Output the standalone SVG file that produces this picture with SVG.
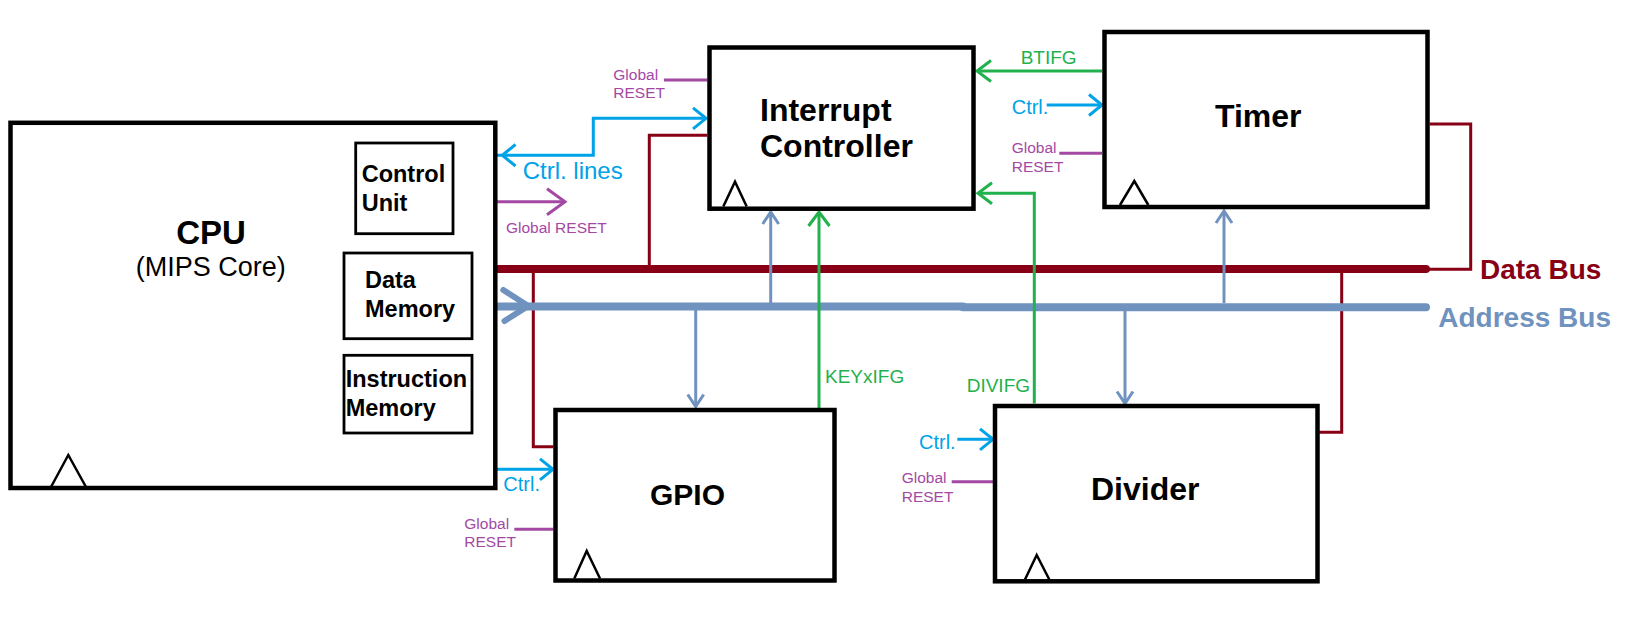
<svg xmlns="http://www.w3.org/2000/svg" width="1649" height="632" viewBox="0 0 1649 632">
<style>
  text { font-family: "Liberation Sans", Arial, sans-serif; }
  .box { fill: #ffffff; stroke: #000000; stroke-width: 4.5; }
  .sub { fill: #ffffff; stroke: #000000; stroke-width: 2.8; }
  .clk { fill: none; stroke: #000000; stroke-width: 2.5; }
  .title { font-weight: bold; fill: #000000; }
  .sublbl { font-weight: bold; font-size: 23.5px; fill: #000000; }
  .red { fill: none; stroke: #880015; stroke-width: 3; }
  .bus-red { fill: none; stroke: #880015; stroke-width: 8; stroke-linecap: round; }
  .gray { fill: none; stroke: #7092BE; stroke-width: 3; }
  .bus-gray { fill: none; stroke: #7092BE; stroke-width: 8; stroke-linecap: round; }
  .blue { fill: none; stroke: #00A2E8; stroke-width: 3; }
  .green { fill: none; stroke: #22B14C; stroke-width: 3; }
  .purple { fill: none; stroke: #A349A4; stroke-width: 3; }
  .t-blue { fill: #00A2E8; font-size: 20px; }
  .t-green { fill: #22B14C; font-size: 19px; }
  .t-purple { fill: #A349A4; font-size: 15.5px; }
</style>
<defs>
  <marker id="ah-blue" markerUnits="userSpaceOnUse" markerWidth="40" markerHeight="40" viewBox="-20 -20 40 40" refX="0" refY="0" orient="auto" overflow="visible">
    <path d="M-13,-10.5 L0,0 L-13,10.5" fill="none" stroke="#00A2E8" stroke-width="3"/>
  </marker>
  <marker id="ah-green" markerUnits="userSpaceOnUse" markerWidth="40" markerHeight="40" viewBox="-20 -20 40 40" refX="0" refY="0" orient="auto" overflow="visible">
    <path d="M-14,-10.5 L0,0 L-14,10.5" fill="none" stroke="#22B14C" stroke-width="3"/>
  </marker>
  <marker id="ah-gray" markerUnits="userSpaceOnUse" markerWidth="40" markerHeight="40" viewBox="-20 -20 40 40" refX="0" refY="0" orient="auto" overflow="visible">
    <path d="M-12,-8 L0,0 L-12,8" fill="none" stroke="#7092BE" stroke-width="3"/>
  </marker>
  <marker id="ah-purple" markerUnits="userSpaceOnUse" markerWidth="40" markerHeight="40" viewBox="-20 -20 40 40" refX="0" refY="0" orient="auto" overflow="visible">
    <path d="M-18,-13 L0,0 L-18,13" fill="none" stroke="#A349A4" stroke-width="3"/>
  </marker>
</defs>
<rect width="1649" height="632" fill="#ffffff"/>

<g id="connectors">
  <!-- Data bus (red) -->
  <path class="red" d="M472,269.3 H495"/>
  <path class="bus-red" d="M495,269 H1426"/>
  <path class="red" d="M707.3,135.3 H649.3 V269"/>
  <path class="red" d="M533.3,269 V446.7 H553.3"/>
  <path class="red" d="M1341.7,269 V432.3 H1315"/>
  <path class="red" d="M1429.7,124 H1470.7 V269.3 H1428"/>
  <!-- Address bus (gray-blue) -->
  <path class="gray" d="M472,306.7 H495"/>
  <path class="bus-gray" d="M495,306.5 H963"/>
  <path class="bus-gray" d="M963,307.3 H1426"/>
  <path fill="none" stroke="#7092BE" stroke-width="6" stroke-linecap="round" stroke-linejoin="round" d="M503.3,290 L528.3,306 L504.5,321"/>
  <path class="gray" d="M770.7,303 V212" marker-end="url(#ah-gray)"/>
  <path class="gray" d="M1224,303 V211" marker-end="url(#ah-gray)"/>
  <path class="gray" d="M695.7,310 V406.5" marker-end="url(#ah-gray)"/>
  <path class="gray" d="M1125,311 V403.5" marker-end="url(#ah-gray)"/>
  <!-- Control lines (blue) -->
  <path class="blue" d="M453,155.3 H593.3 V118.3 H706" marker-end="url(#ah-blue)"/>
  <path class="blue" d="M515.5,144.5 L502.3,155.3 L515.5,166"/>
  <path class="blue" d="M355.5,219 H322.5 V469.3 H553" marker-end="url(#ah-blue)"/>
  <path class="blue" d="M1046.7,105 H1102" marker-end="url(#ah-blue)"/>
  <path class="blue" d="M957.3,439.3 H993" marker-end="url(#ah-blue)"/>
  <!-- Interrupt flags (green) -->
  <path class="green" d="M1102,71 H977" marker-end="url(#ah-green)"/>
  <path class="green" d="M819,408 V212" marker-end="url(#ah-green)"/>
  <path class="green" d="M1034.3,403.5 V193.3 H978" marker-end="url(#ah-green)"/>
  <!-- Global reset (purple) -->
  <path class="purple" d="M497,201.7 H565" marker-end="url(#ah-purple)"/>
  <path class="purple" d="M664,80 H707.3"/>
  <path class="purple" d="M1059.3,153.3 H1102"/>
  <path class="purple" d="M514.3,529.3 H553.3"/>
  <path class="purple" d="M951.7,481.7 H993"/>
  <!-- Connector labels -->
  <text class="t-blue" x="522.7" y="179" style="font-size:24px">Ctrl. lines</text>
  <text class="t-purple" x="506" y="232.7">Global RESET</text>
  <text class="t-purple" x="613.3" y="80">Global</text>
  <text class="t-purple" x="613.3" y="98.3">RESET</text>
  <text class="t-green" x="1020.7" y="64.3">BTIFG</text>
  <text class="t-blue" x="1011.7" y="114.3">Ctrl.</text>
  <text class="t-purple" x="1011.7" y="153.3">Global</text>
  <text class="t-purple" x="1011.7" y="171.7">RESET</text>
  <text class="t-green" x="825" y="382.7">KEYxIFG</text>
  <text class="t-green" x="966.7" y="391.7">DIVIFG</text>
  <text class="t-blue" x="503.3" y="491">Ctrl.</text>
  <text class="t-purple" x="464.3" y="529.3">Global</text>
  <text class="t-purple" x="464.3" y="547.3">RESET</text>
  <text class="t-blue" x="919" y="449.3">Ctrl.</text>
  <text class="t-purple" x="901.7" y="483.3">Global</text>
  <text class="t-purple" x="901.7" y="501.7">RESET</text>
  <text x="1480" y="279" style="font-weight:bold;font-size:28px;fill:#880015">Data Bus</text>
  <text x="1438.3" y="327.3" style="font-weight:bold;font-size:28px;fill:#7092BE">Address Bus</text>
</g>

<g id="cpu">
  <rect class="box" x="10.5" y="122.8" width="484.8" height="365.2"/>
  <path class="clk" d="M51,487 L68.3,455 L86,487"/>
  <text class="title" x="211" y="244" text-anchor="middle" style="font-size:33px">CPU</text>
  <text x="210.7" y="275.7" text-anchor="middle" style="font-size:27px;fill:#000">(MIPS Core)</text>
</g>
<g id="control-unit">
  <rect class="sub" x="355.7" y="143" width="97.3" height="90.7"/>
  <text class="sublbl" x="361.7" y="181.7">Control</text>
  <text class="sublbl" x="361.7" y="210.7">Unit</text>
</g>
<g id="data-memory">
  <rect class="sub" x="344" y="253" width="128" height="85.7"/>
  <text class="sublbl" x="365" y="288.3">Data</text>
  <text class="sublbl" x="365" y="316.7">Memory</text>
</g>
<g id="instruction-memory">
  <rect class="sub" x="344" y="355.3" width="128" height="77.7"/>
  <text class="sublbl" x="345.7" y="387.3">Instruction</text>
  <text class="sublbl" x="345.7" y="415.7">Memory</text>
</g>

<g id="interrupt-controller">
  <rect class="box" x="709.5" y="47.5" width="264" height="161.2"/>
  <path class="clk" d="M723.3,206.5 L735,181.7 L746.7,206.5"/>
  <text class="title" x="760" y="120.7" style="font-size:32px">Interrupt</text>
  <text class="title" x="760" y="157.3" style="font-size:32px">Controller</text>
</g>

<g id="timer">
  <rect class="box" x="1104.5" y="32" width="323" height="175"/>
  <path class="clk" d="M1120,205 L1134.3,181 L1148.3,205"/>
  <text class="title" x="1215" y="126.7" style="font-size:32px">Timer</text>
</g>

<g id="gpio">
  <rect class="box" x="555.5" y="410" width="279" height="170.5"/>
  <path class="clk" d="M574.3,578.5 L586.7,551 L600,578.5"/>
  <text class="title" x="650" y="505" style="font-size:30px">GPIO</text>
</g>

<g id="divider">
  <rect class="box" x="995" y="406" width="322.5" height="175.3"/>
  <path class="clk" d="M1025,579.5 L1036.7,555 L1049.3,579.5"/>
  <text class="title" x="1091" y="500" style="font-size:32px">Divider</text>
</g>
</svg>
